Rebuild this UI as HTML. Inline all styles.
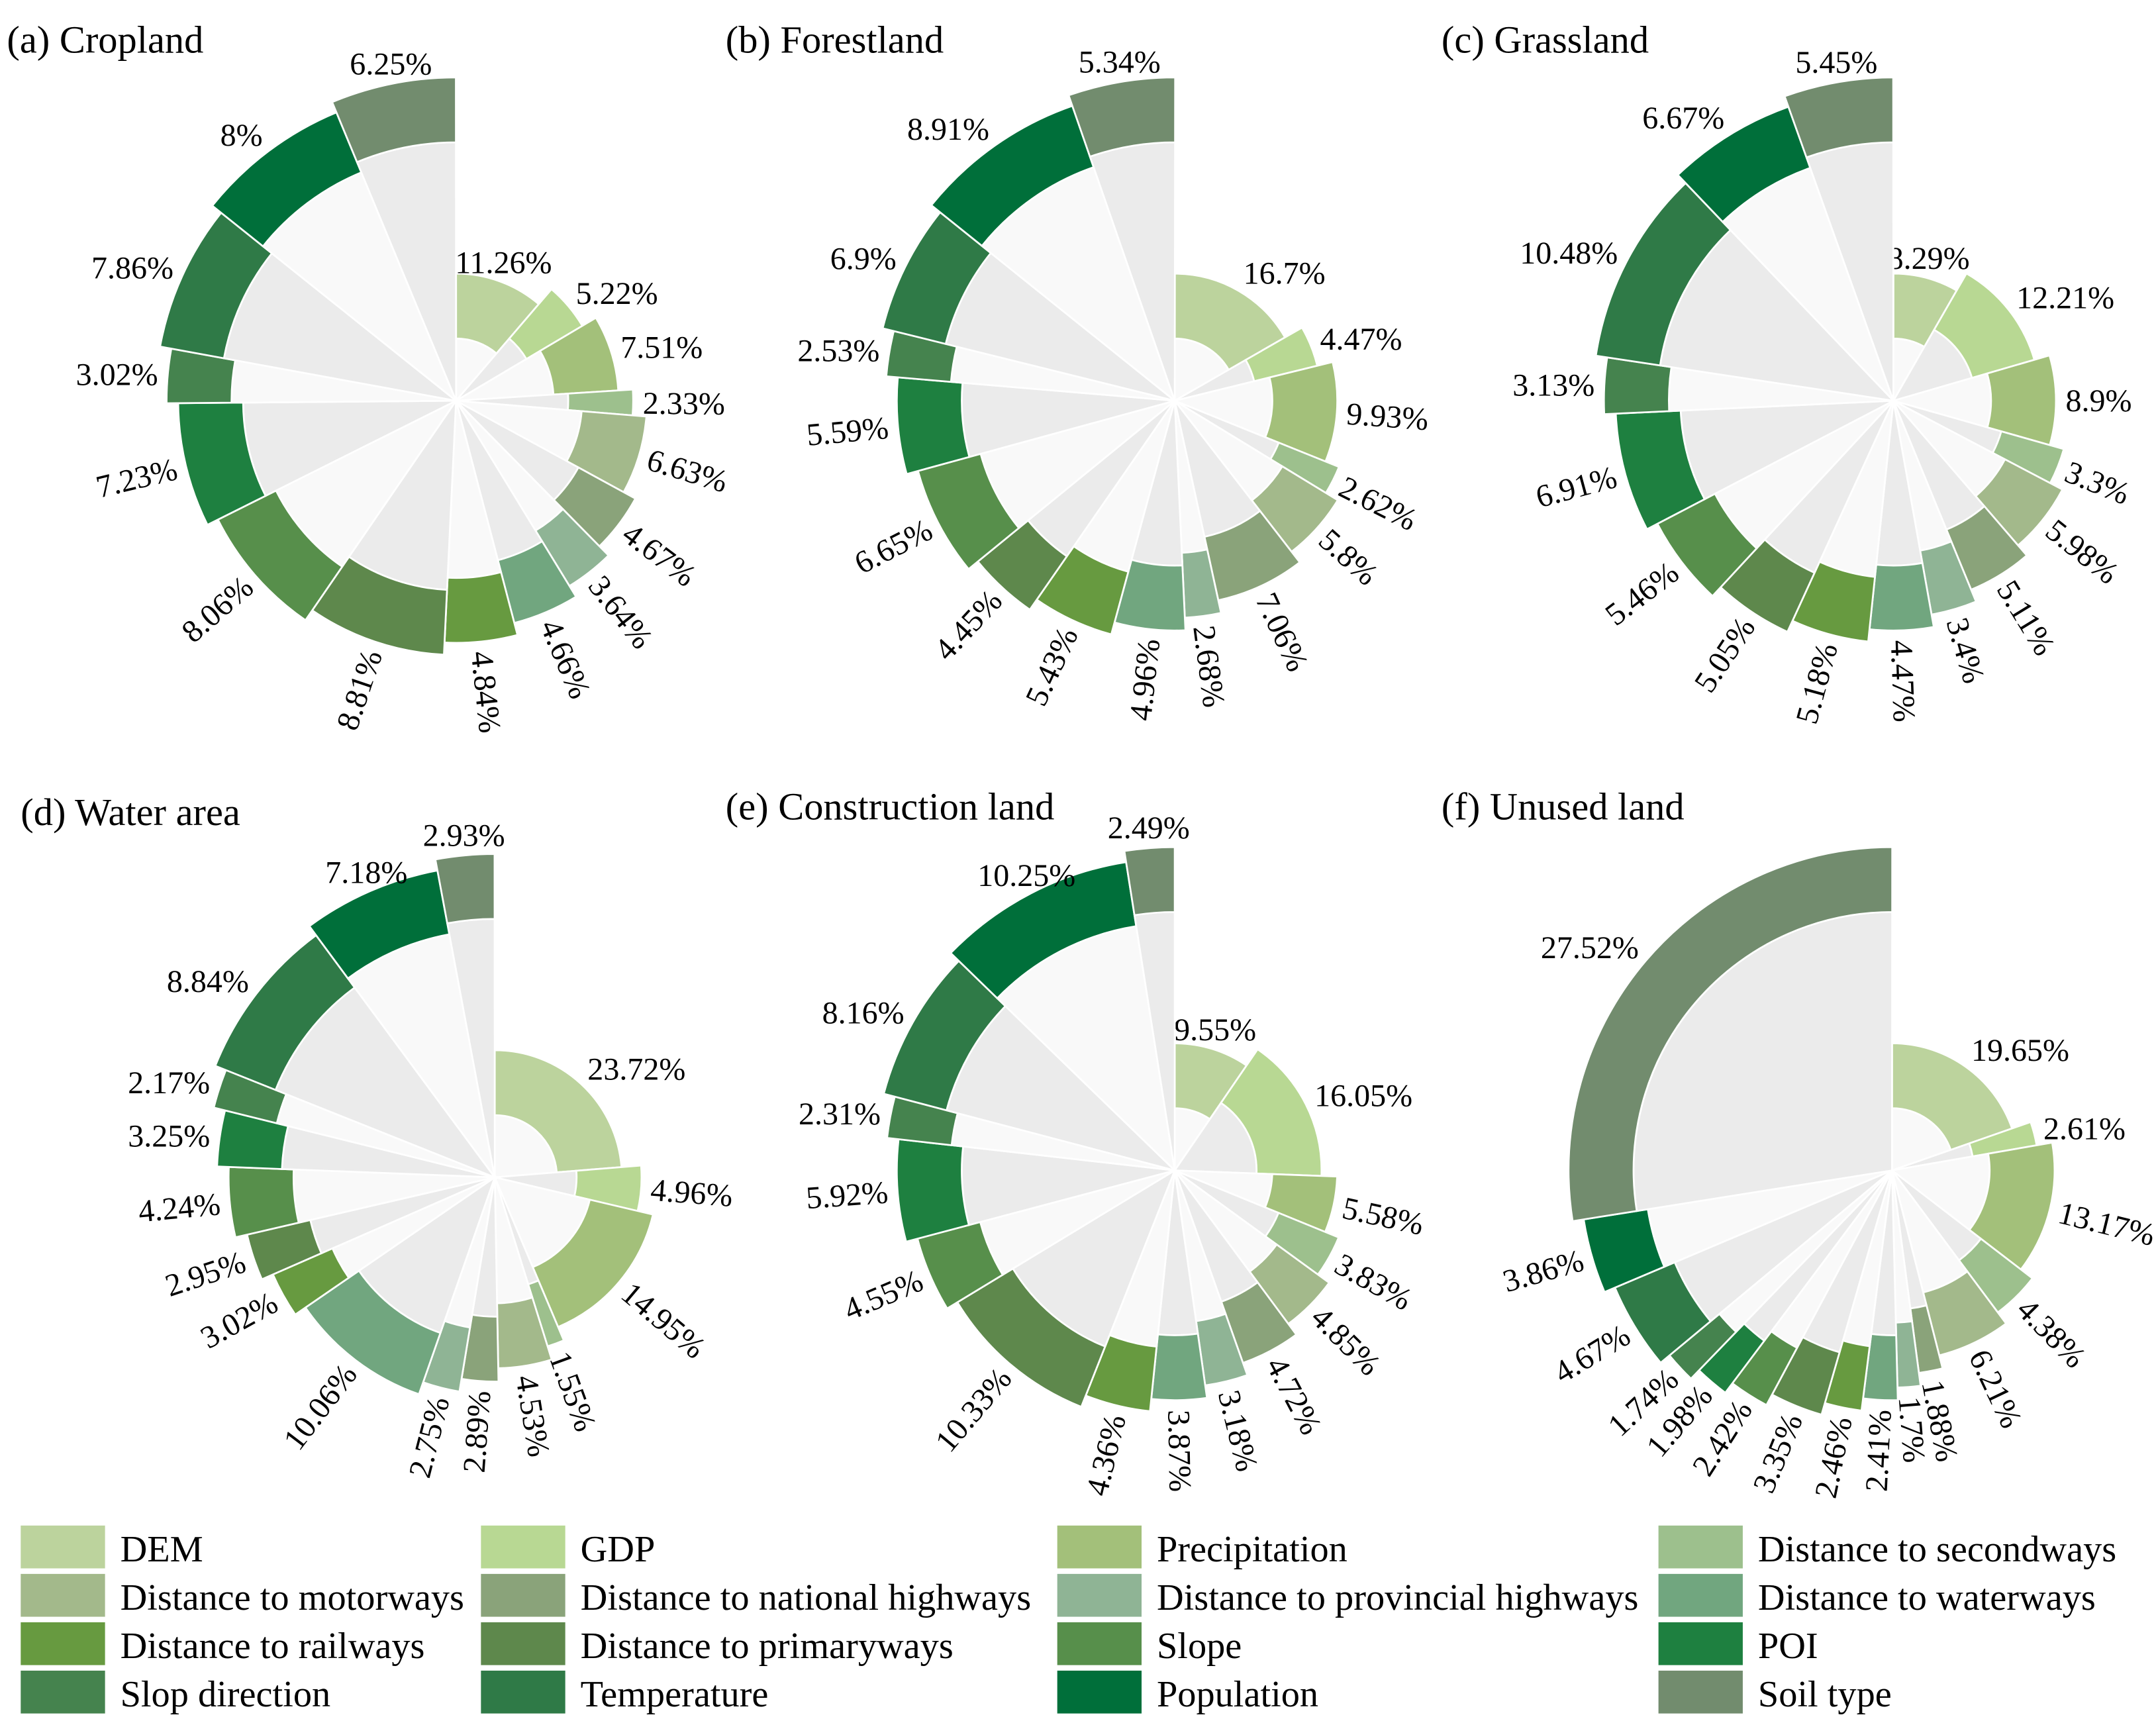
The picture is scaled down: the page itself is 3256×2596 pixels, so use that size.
<!DOCTYPE html>
<html>
<head>
<meta charset="utf-8">
<style>
  html,body{margin:0;padding:0;background:#fff;}
  svg{display:block;}
  text{font-family:"Liberation Serif","Times New Roman",serif;fill:#000;}
</style>
</head>
<body>
<svg id="fig" xmlns="http://www.w3.org/2000/svg" width="3256" height="2596" viewBox="0 0 1560 1244" preserveAspectRatio="none">
  <rect x="0" y="0" width="1560" height="1244" fill="#fff"/>
</svg>
<script>
// ---- data ----
const factors = ["DEM","GDP","Precipitation","Distance to secondways","Distance to motorways","Distance to national highways","Distance to provincial highways","Distance to waterways","Distance to railways","Distance to primaryways","Slope","POI","Slop direction","Temperature","Population","Soil type"];
const factorColors = ["#bcd39d","#b8d893","#a3c07a","#9dc08d","#a3b98b","#8aa37a","#8fb495","#71a67f","#679a40","#5e884c","#578f4b","#1e8040","#45834e","#2f7a47","#006f3a","#728c6e"];
const panelTitles = ["(a) Cropland","(b) Forestland","(c) Grassland","(d) Water area","(e) Construction land","(f) Unused land"];
const croplandValues = [11.26,5.22,7.51,2.33,6.63,4.67,3.64,4.66,4.84,8.81,8.06,7.23,3.02,7.86,8,6.25];
const forestlandValues = [16.7,4.47,9.93,2.62,5.8,7.06,2.68,4.96,5.43,4.45,6.65,5.59,2.53,6.9,8.91,5.34];
const grasslandValues = [8.29,12.21,8.9,3.3,5.98,5.11,3.4,4.47,5.18,5.05,5.46,6.91,3.13,10.48,6.67,5.45];
const waterValues = [23.72,4.96,14.95,1.55,4.53,2.89,2.75,10.06,3.02,2.95,4.24,3.25,2.17,8.84,7.18,2.93];
const constructionValues = [9.55,16.05,5.58,3.83,4.85,4.72,3.18,3.87,4.36,10.33,4.55,5.92,2.31,8.16,10.25,2.49];
const unusedValues = [19.65,2.61,13.17,4.38,6.21,1.88,1.7,2.41,2.46,3.35,2.42,1.98,1.74,4.67,3.86,27.52];
const panelValues = [croplandValues,forestlandValues,grasslandValues,waterValues,constructionValues,unusedValues];

// ---- layout ----
const NS = "http://www.w3.org/2000/svg";
const FONT = '"Liberation Serif", "Times New Roman", serif';
const svg = document.getElementById("fig");
const panelCenters = [[330,290],[850,290],[1370,290],[358,852],[850,847],[1369,847]];
const titlePos = [[5,38],[525,38],[1043,38],[15,597],[525,593],[1043,593]];
const R0 = 45, RSPAN = 142, THICK = 47, LABEL_FS = 23;

function angleScale(pct){ return pct * 3.6; }               // percent -> degrees
function innerR(i){ return R0 + RSPAN * Math.pow(i/15, 0.85); }
function pt(cx, cy, r, deg){ const a = deg*Math.PI/180; return [cx + r*Math.sin(a), cy - r*Math.cos(a)]; }
function f(n){ return n.toFixed(2); }

function wedgePath(cx, cy, r, a0, a1){
  const p0 = pt(cx,cy,r,a0), p1 = pt(cx,cy,r,a1), large = (a1-a0)>180?1:0;
  return `M${f(cx)},${f(cy)} L${f(p0[0])},${f(p0[1])} A${f(r)},${f(r)} 0 ${large} 1 ${f(p1[0])},${f(p1[1])} Z`;
}
function ringPath(cx, cy, r1, r2, a0, a1){
  const large = (a1-a0)>180?1:0;
  const o0 = pt(cx,cy,r2,a0), o1 = pt(cx,cy,r2,a1), i1 = pt(cx,cy,r1,a1), i0 = pt(cx,cy,r1,a0);
  return `M${f(o0[0])},${f(o0[1])} A${f(r2)},${f(r2)} 0 ${large} 1 ${f(o1[0])},${f(o1[1])} L${f(i1[0])},${f(i1[1])} A${f(r1)},${f(r1)} 0 ${large} 0 ${f(i0[0])},${f(i0[1])} Z`;
}

panelValues.forEach((vals, p) => {
  const g = document.createElementNS(NS, "g");
  
  
  svg.appendChild(g);

  const title = document.createElementNS(NS, "text");
  
  
  title.setAttribute("x", titlePos[p][0]);
  title.setAttribute("y", titlePos[p][1]);
  title.setAttribute("font-size", "28");
  title.setAttribute("font-family", FONT);
  title.textContent = panelTitles[p];
  g.appendChild(title);

  const [cx, cy] = panelCenters[p];
  let cum = 0;
  vals.forEach((v, i) => {
    const a0 = angleScale(cum), a1 = angleScale(cum + v);
    cum += v;
    const ri = innerR(i), ro = ri + THICK;

    const bg = document.createElementNS(NS, "path");
    
    
    bg.setAttribute("d", wedgePath(cx, cy, ri, a0, a1));
    bg.setAttribute("fill", i % 2 === 0 ? "#f9f9f9" : "#ebebeb");
    bg.setAttribute("stroke", "#fff");
    bg.setAttribute("stroke-width", "1.3");
    g.appendChild(bg);

    const bar = document.createElementNS(NS, "path");
    
    
    bar.setAttribute("d", ringPath(cx, cy, ri, ro, a0, a1));
    bar.setAttribute("fill", factorColors[i]);
    bar.setAttribute("stroke", "#fff");
    bar.setAttribute("stroke-width", "1.3");
    g.appendChild(bar);

    const mid = (a0 + a1) / 2;
    const lp = pt(cx, cy, ro + 7, mid);
    const t = document.createElementNS(NS, "text");
    
    
    t.setAttribute("font-size", LABEL_FS);
    t.setAttribute("font-family", FONT);
    t.textContent = v + "%";
    const s = Math.sin(mid*Math.PI/180), c = Math.cos(mid*Math.PI/180);
    if (mid > 90 && mid < 270) {
      const rot = mid < 180 ? mid - 90 : mid - 270;
      t.setAttribute("x", f(lp[0]));
      t.setAttribute("y", f(lp[1]));
      t.setAttribute("dy", "0.35em");
      t.setAttribute("text-anchor", mid < 180 ? "start" : "end");
      t.setAttribute("transform", `rotate(${f(rot)} ${f(lp[0])} ${f(lp[1])})`);
    } else {
      const anchor = s > 0.5 ? "start" : (s < -0.5 ? "end" : "middle");
      t.setAttribute("text-anchor", anchor);
      t.setAttribute("x", f(lp[0]));
      t.setAttribute("y", f(lp[1] + LABEL_FS*0.35*(1 - Math.abs(c))));
    }
    g.appendChild(t);
  });
});

// ---- legend ----
const legendCols = [15, 348, 765, 1200];
const legendRowTop = 1104, legendRowStep = 35;
const lg = document.createElementNS(NS, "g");


svg.appendChild(lg);
factors.forEach((name, i) => {
  const col = i % 4, row = Math.floor(i / 4);
  const x = legendCols[col], y = legendRowTop + row * legendRowStep;
  const item = document.createElementNS(NS, "g");
  
  
  const sw = document.createElementNS(NS, "rect");
  
  
  sw.setAttribute("x", x); sw.setAttribute("y", y);
  sw.setAttribute("width", 61); sw.setAttribute("height", 31);
  sw.setAttribute("fill", factorColors[i]);
  item.appendChild(sw);
  const tx = document.createElementNS(NS, "text");
  
  
  tx.setAttribute("x", x + 72); tx.setAttribute("y", y + 26);
  tx.setAttribute("font-size", "27");
  tx.setAttribute("font-family", FONT);
  tx.textContent = name;
  item.appendChild(tx);
  lg.appendChild(item);
});
</script>
</body>
</html>
